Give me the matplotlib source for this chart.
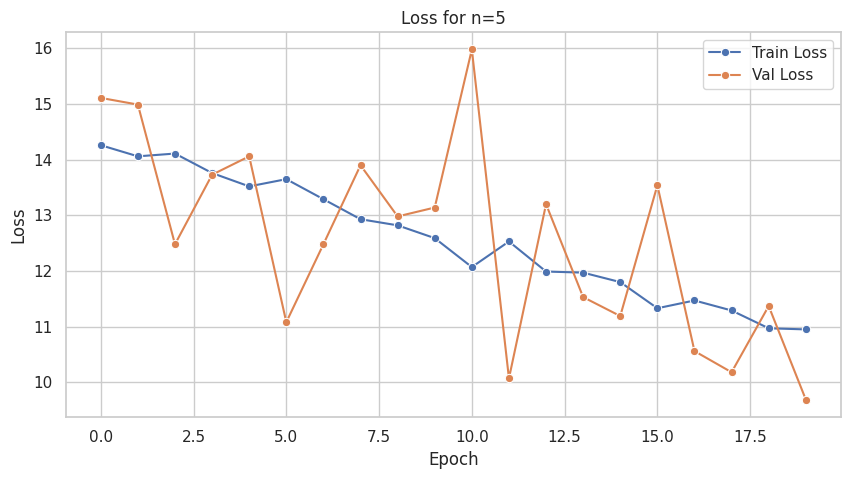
import matplotlib
matplotlib.use("Agg")
import matplotlib.pyplot as plt
import seaborn as sns

epochs = list(range(20))
train_loss = [14.26, 14.06, 14.11, 13.76, 13.52, 13.65, 13.29, 12.93, 12.82, 12.59,
              12.07, 12.53, 11.99, 11.97, 11.80, 11.33, 11.47, 11.29, 10.97, 10.95]
val_loss = [15.11, 14.99, 12.48, 13.73, 14.06, 11.08, 12.48, 13.90, 12.98, 13.14,
            15.98, 10.07, 13.20, 11.53, 11.19, 13.54, 10.56, 10.18, 11.37, 9.69]

sns.set_theme(style="whitegrid")

fig = plt.figure(figsize=(8.51, 4.79), dpi=100)
ax = fig.add_axes([0.077, 0.1294, 0.9113, 0.8038])
sns.lineplot(x=epochs, y=train_loss, marker="o", label="Train Loss", ax=ax)
sns.lineplot(x=epochs, y=val_loss, marker="o", label="Val Loss", ax=ax)
ax.set_title("Loss for n=5")
ax.set_xlabel("Epoch")
ax.set_ylabel("Loss")
ax.legend(loc="upper right")
fig.savefig("out.png", dpi=100)
